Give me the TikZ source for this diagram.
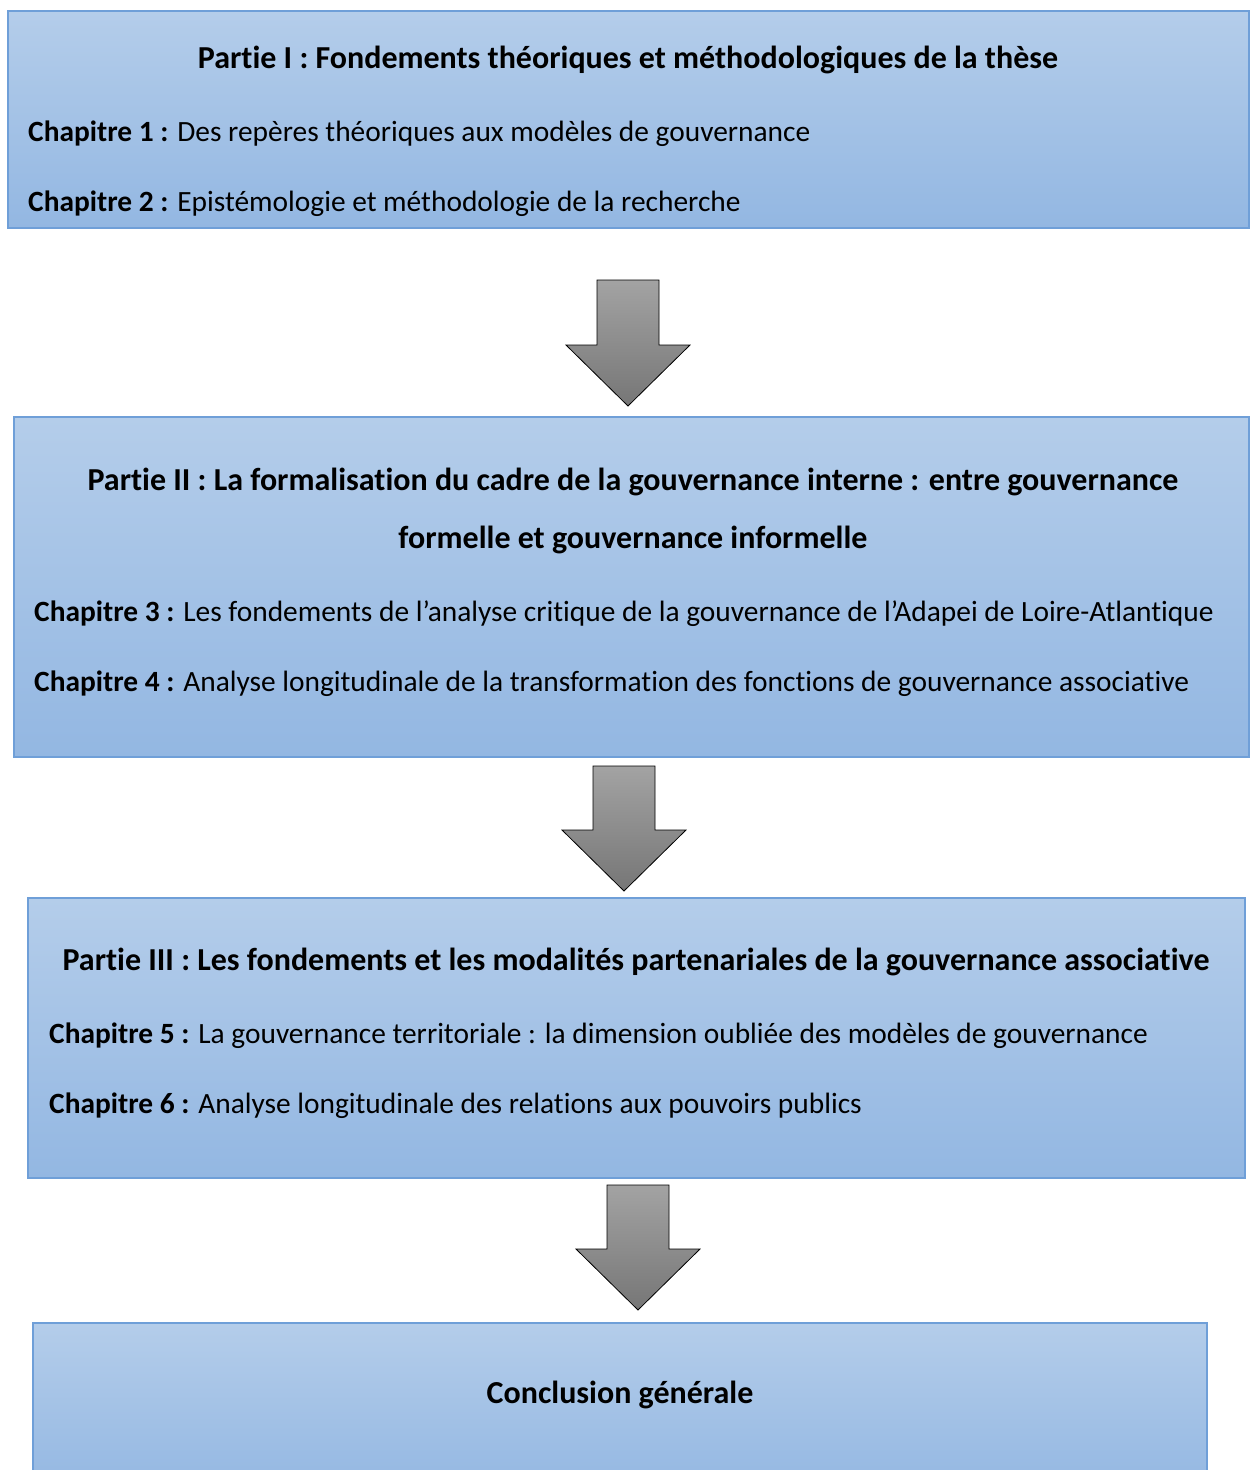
\documentclass[tikz,border=0pt]{standalone}
\usepackage{fontspec}
\setmainfont[Ligatures=NoCommon]{Carlito}
\definecolor{boxtop}{HTML}{B4CDEA}
\definecolor{boxbot}{HTML}{93B7E2}
\definecolor{boxline}{HTML}{6F9FD8}
\definecolor{arrtop}{HTML}{A3A3A3}
\definecolor{arrbot}{HTML}{767676}
\tikzset{
  partbox/.style={draw=boxline, line width=1.2pt, top color=boxtop, bottom color=boxbot, rectangle, inner sep=0pt},
  titletxt/.style={font=\fontsize{32}{38}\selectfont\bfseries, anchor=base, inner sep=0pt},
  chaptxt/.style={font=\fontsize{29.4}{35}\selectfont, anchor=base west, inner sep=0pt},
  blockarrow/.style={draw=black, line width=0.8pt, top color=arrtop, bottom color=arrbot, line join=miter},
}
\begin{document}
\begin{tikzpicture}[x=1pt,y=-1pt]
\useasboundingbox (0,0) rectangle (1250,1470);
\clip (0,0) rectangle (1250,1470);
\fill[white] (0,0) rectangle (1250,1470);
% boxes
\node[partbox, minimum width=1241pt, minimum height=217pt] (b1) at (628.5,119.5) {};
\node[partbox, minimum width=1235pt, minimum height=340pt] (b2) at (631.5,587) {};
\node[partbox, minimum width=1217pt, minimum height=280pt] (b3) at (636.5,1038) {};
\node[partbox, minimum width=1174pt, minimum height=170pt] (b4) at (620,1408) {};
% block arrows
\shade[blockarrow] (597,280) -- (659,280) -- (659,345) -- (690,345) -- (628,406) -- (566,345) -- (597,345) -- cycle;
\shade[blockarrow] (593,766) -- (655,766) -- (655,830) -- (686,830) -- (624,891) -- (562,830) -- (593,830) -- cycle;
\shade[blockarrow] (607,1185) -- (669,1185) -- (669,1249) -- (700,1249) -- (638,1310) -- (576,1249) -- (607,1249) -- cycle;
% texts box 1
\node[titletxt] (t1) at (628,68.5) {Partie I : Fondements théoriques et méthodologiques de la thèse};
\node[chaptxt] (c1) at (28,141) {\textbf{Chapitre 1 :} Des repères théoriques aux modèles de gouvernance};
\node[chaptxt] (c2) at (28,211) {\textbf{Chapitre 2 :} Epistémologie et méthodologie de la recherche};
% texts box 2
\node[titletxt] (t2a) at (633,490.5) {Partie II : La formalisation du cadre de la gouvernance interne : entre gouvernance};
\node[titletxt] (t2b) at (633,548.5) {formelle et gouvernance informelle};
\node[chaptxt] (c3) at (34,621) {\textbf{Chapitre 3 :} Les fondements de l’analyse critique de la gouvernance de l’Adapei de Loire-Atlantique};
\node[chaptxt] (c4) at (34,691) {\textbf{Chapitre 4 :} Analyse longitudinale de la transformation des fonctions de gouvernance associative};
% texts box 3
\node[titletxt] (t3) at (636,970.5) {Partie III : Les fondements et les modalités partenariales de la gouvernance associative};
\node[chaptxt] (c5) at (49,1043) {\textbf{Chapitre 5 :} La gouvernance territoriale : la dimension oubliée des modèles de gouvernance};
\node[chaptxt] (c6) at (49,1113) {\textbf{Chapitre 6 :} Analyse longitudinale des relations aux pouvoirs publics};
% texts box 4
\node[titletxt] (t4) at (620,1403.5) {Conclusion générale};
\end{tikzpicture}
\end{document}
